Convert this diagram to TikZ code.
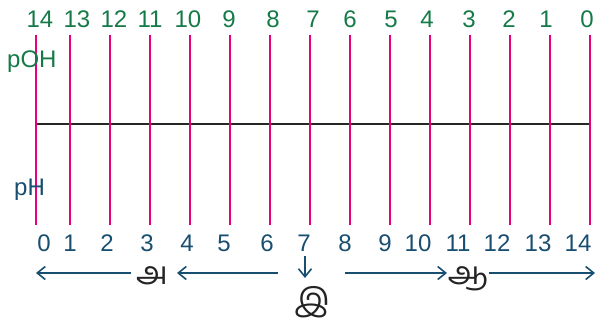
\documentclass[tikz,border=0pt]{standalone}
\usepackage{fontspec}
\setmainfont{Liberation Sans}
\newfontfamily\tamilfont[Script=Tamil]{Hind Madurai}
\usetikzlibrary{arrows.meta}
\definecolor{pinkc}{RGB}{230,0,126}
\definecolor{greenc}{RGB}{22,122,72}
\definecolor{bluec}{RGB}{24,78,112}
\definecolor{tamc}{RGB}{35,35,35}
\tikzset{
  pinkline/.style={draw=pinkc, line width=2.6pt},
  axisline/.style={draw=black!85, line width=2.8pt},
  toplab/.style={text=greenc, font=\fontsize{24}{28}\selectfont, inner sep=0pt, anchor=base},
  botlab/.style={text=bluec, font=\fontsize{24}{28}\selectfont, inner sep=0pt, anchor=base},
  tamlab/.style={text=tamc, font=\tamilfont\fontsize{32}{36}\selectfont, inner sep=0pt, anchor=base},
  arr/.style={draw=bluec, line width=1.6pt, -{Straight Barb[length=8pt,width=13pt,line width=1.6pt]}}
}
\begin{document}
\begin{tikzpicture}[x=1pt,y=-1pt]
\useasboundingbox (0,0) rectangle (597,325);
\coordinate (hl) at (36,124);
\coordinate (hr) at (590,124);
\draw[axisline] (hl) -- (hr);
\foreach \x [count=\i from 0] in {36,70,110,150,190,230,270,310,350,390,430,470,510,550,590} {
  \coordinate (t\i) at (\x,35);
  \coordinate (b\i) at (\x,225);
  \draw[pinkline] (t\i) -- (b\i);
}
\foreach \x [count=\i from 0] in {40,77,114,150,188,229,273,313,350,391,427,469,509,546,587} {
  \pgfmathtruncatemacro\p{14-\i}
  \node[toplab] (o\i) at (\x,27) {\p};
}
\foreach \x [count=\i from 0] in {44,70,107,147,187,224,267,304,345,385,418,458,497,538,578} {
  \node[botlab] (h\i) at (\x,251) {\i};
}
\node[toplab, anchor=base west] (poh) at (7,67) {pOH};
\node[botlab, anchor=base west] (ph) at (14,195) {pH};
% Tamil labels
\node[tamlab] (ta) at (152,284) {அ};
\node[tamlab] (ti) at (312,311) {இ};
\node[tamlab] (taa) at (468,284) {ஆ};
% arrows
\coordinate (a1s) at (131,273);
\coordinate (a1e) at (36,273);
\coordinate (a2s) at (278,273);
\coordinate (a2e) at (177,273);
\coordinate (a3s) at (345,273);
\coordinate (a3e) at (447,273);
\coordinate (a4s) at (489,273);
\coordinate (a4e) at (595,273);
\coordinate (d1s) at (305,256);
\coordinate (d1e) at (305,278);
\draw[arr] (a1s) -- (a1e);
\draw[arr] (a2s) -- (a2e);
\draw[arr] (a3s) -- (a3e);
\draw[arr] (a4s) -- (a4e);
\draw[arr] (d1s) -- (d1e);
\end{tikzpicture}
\end{document}
